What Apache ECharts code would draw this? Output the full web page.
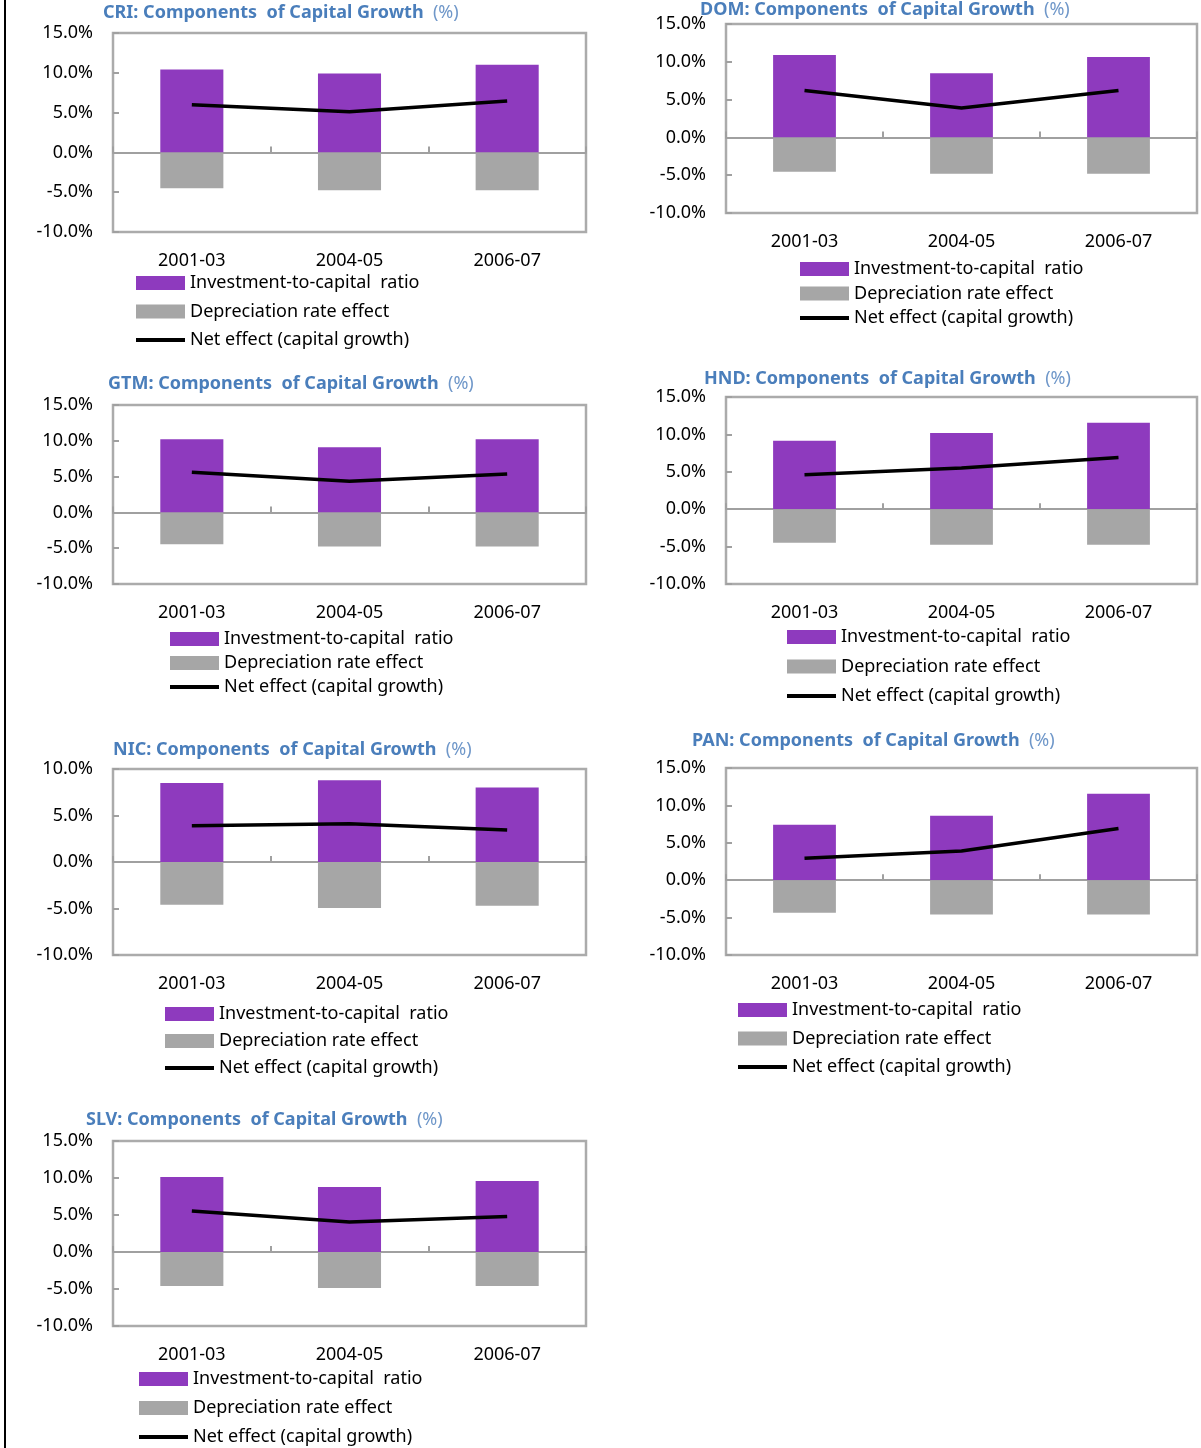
<!DOCTYPE html>
<html>
<head>
<meta charset="utf-8">
<script src="https://cdn.jsdelivr.net/npm/echarts@6/dist/echarts.min.js"></script>
<style>
html,body{margin:0;padding:0;background:#fff;}
#chart{position:absolute;left:0;top:0;width:1201px;height:1448px;}
#edge{position:absolute;left:4px;top:0;width:2px;height:1448px;background:#000;}
</style>
</head>
<body>
<div id="chart"></div>
<div id="edge"></div>
<script>
// ---- data ----
const categories = ['2001-03', '2004-05', '2006-07'];
const seriesNames = ['Investment-to-capital  ratio', 'Depreciation rate effect', 'Net effect (capital growth)'];

const criInv = [10.4, 9.9, 11.0];
const criDep = [-4.5, -4.75, -4.75];
const criNet = [6.0, 5.1, 6.45];

const domInv = [10.9, 8.5, 10.65];
const domDep = [-4.55, -4.8, -4.8];
const domNet = [6.2, 3.9, 6.2];

const gtmInv = [10.2, 9.1, 10.2];
const gtmDep = [-4.45, -4.75, -4.75];
const gtmNet = [5.6, 4.35, 5.35];

const hndInv = [9.15, 10.2, 11.55];
const hndDep = [-4.5, -4.75, -4.75];
const hndNet = [4.6, 5.5, 6.9];

const nicInv = [8.5, 8.8, 8.0];
const nicDep = [-4.6, -4.95, -4.7];
const nicNet = [3.9, 4.1, 3.45];

const panInv = [7.4, 8.6, 11.55];
const panDep = [-4.35, -4.6, -4.6];
const panNet = [2.95, 3.9, 6.9];

const slvInv = [10.15, 8.8, 9.6];
const slvDep = [-4.6, -4.85, -4.6];
const slvNet = [5.55, 4.05, 4.8];

const yMin = -10;
const yMaxDefault = 15;
const yMaxNic = 10;
const yInterval = 5;

// ---- layout ----
const panels = [
  {code:'CRI', inv:criInv, dep:criDep, net:criNet, yMax:yMaxDefault,
   grid:{left:113, top:33, width:473, height:199}, title:{left:103, top:2}, legend:{left:136, top:274, gap:10.5}},
  {code:'DOM', inv:domInv, dep:domDep, net:domNet, yMax:yMaxDefault,
   grid:{left:726, top:24, width:471, height:189}, title:{left:700, top:-1}, legend:{left:800, top:260, gap:6.5}},
  {code:'GTM', inv:gtmInv, dep:gtmDep, net:gtmNet, yMax:yMaxDefault,
   grid:{left:113, top:405, width:473, height:179}, title:{left:108, top:373}, legend:{left:170, top:630, gap:6}},
  {code:'HND', inv:hndInv, dep:hndDep, net:hndNet, yMax:yMaxDefault,
   grid:{left:726, top:397, width:471, height:187}, title:{left:704, top:368}, legend:{left:787, top:628, gap:11.5}},
  {code:'NIC', inv:nicInv, dep:nicDep, net:nicNet, yMax:yMaxNic,
   grid:{left:113, top:769, width:473, height:186}, title:{left:113, top:739}, legend:{left:165, top:1005, gap:9}},
  {code:'PAN', inv:panInv, dep:panDep, net:panNet, yMax:yMaxDefault,
   grid:{left:726, top:768, width:471, height:187}, title:{left:692, top:730}, legend:{left:738, top:1001, gap:10.5}},
  {code:'SLV', inv:slvInv, dep:slvDep, net:slvNet, yMax:yMaxDefault,
   grid:{left:113, top:1141, width:473, height:185}, title:{left:86, top:1109}, legend:{left:139, top:1370, gap:11}}
];

const FONT = 'Noto Sans';
const purple = '#8E3ABE';
const gray = '#A6A6A6';
const borderGray = '#ABABAB';
const lineIcon = 'path://M0,0 L49,0 L49,4 L0,4 Z';

const option = {
  animation: false,
  backgroundColor: '#ffffff',
  textStyle: {fontFamily: FONT},
  title: [], legend: [], grid: [], xAxis: [], yAxis: [], series: []
};

panels.forEach((p, i) => {
  option.title.push({
    text: '{b|' + p.code + ': Components  of Capital Growth}  {n|(%)}',
    left: p.title.left, top: p.title.top, padding: 0,
    textStyle: {
      rich: {
        b: {fontFamily: FONT, fontSize: 18, fontWeight: 'bold', color: '#4A7EBB', lineHeight: 22},
        n: {fontFamily: FONT, fontSize: 18, fontWeight: 'normal', color: '#6F97C9', lineHeight: 22}
      }
    }
  });
  option.grid.push(Object.assign({show: true, borderColor: borderGray, borderWidth: 2.5, backgroundColor: 'transparent', containLabel: false}, p.grid));
  option.xAxis.push({
    gridIndex: i, type: 'category', data: categories, position: 'bottom',
    axisLine: {show: false, onZero: false}, axisTick: {show: false},
    axisLabel: {margin: 20, fontFamily: FONT, fontSize: 18, color: '#000'}
  });
  option.xAxis.push({
    gridIndex: i, type: 'category', data: categories, position: 'bottom',
    axisLine: {show: true, onZero: true, lineStyle: {color: '#A0A0A0', width: 2}},
    axisTick: {show: true, inside: true, length: 6, lineStyle: {color: '#A0A0A0', width: 2}},
    axisLabel: {show: false}
  });
  option.yAxis.push({
    gridIndex: i, type: 'value', min: yMin, max: p.yMax, interval: yInterval,
    axisLine: {show: false},
    axisTick: {show: true, inside: true, length: 6, lineStyle: {color: '#A0A0A0', width: 2}},
    splitLine: {show: false},
    axisLabel: {margin: 20, fontFamily: FONT, fontSize: 18, color: '#000',
      formatter: v => v.toFixed(1) + '%'}
  });
  option.series.push({
    name: seriesNames[0], type: 'bar', xAxisIndex: i * 2, yAxisIndex: i,
    stack: 'c' + i, data: p.inv, barWidth: '40%', itemStyle: {color: purple}, z: 2
  });
  option.series.push({
    name: seriesNames[1], type: 'bar', xAxisIndex: i * 2, yAxisIndex: i,
    stack: 'c' + i, data: p.dep, barWidth: '40%', itemStyle: {color: gray}, z: 2
  });
  option.series.push({
    name: seriesNames[2], type: 'line', xAxisIndex: i * 2, yAxisIndex: i,
    data: p.net, symbol: 'none', lineStyle: {color: '#000', width: 3.5}, itemStyle: {color: '#000'}, z: 5
  });
  option.legend.push({
    orient: 'vertical', left: p.legend.left, top: p.legend.top, padding: 0,
    itemWidth: 49, itemHeight: 14, itemGap: p.legend.gap, selectedMode: false,
    data: [
      {name: seriesNames[0], icon: 'rect'},
      {name: seriesNames[1], icon: 'rect'},
      {name: seriesNames[2], icon: lineIcon, itemStyle: {color: '#000', borderWidth: 0}}
    ],
    textStyle: {fontFamily: FONT, fontSize: 18, color: '#000', lineHeight: 18}
  });
});

const chart = echarts.init(document.getElementById('chart'), null, {renderer: 'canvas'});
chart.setOption(option);
</script>
</body>
</html>
